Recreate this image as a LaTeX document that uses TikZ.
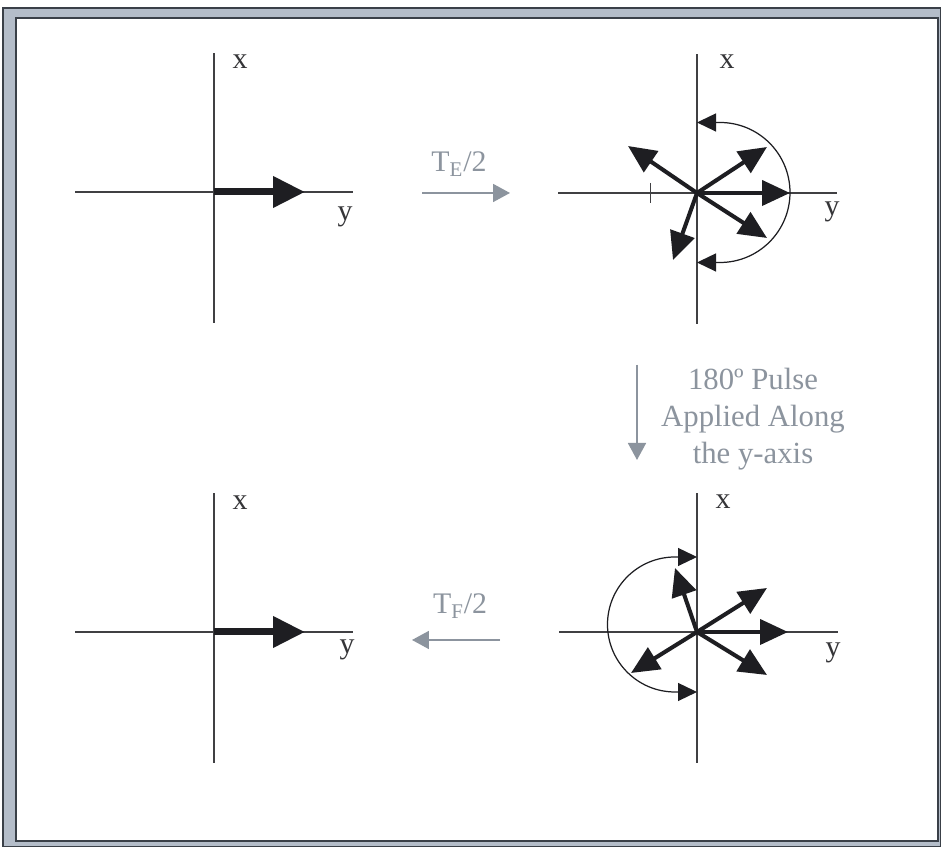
\documentclass[tikz,border=0pt]{standalone}
\usepackage{xcolor}
\usepackage{tikz}
\usepackage{fontspec}
\setmainfont{Liberation Serif}
\usetikzlibrary{arrows.meta, positioning}
\definecolor{FrameGray}{HTML}{B4BDC9}
\definecolor{FrameLine}{HTML}{3A4048}
\definecolor{ScanGray}{HTML}{8C949E}
\definecolor{InkBlack}{HTML}{1E1E22}

\begin{document}
\begin{tikzpicture}[x=0.02cm, y=0.02cm,
  axis/.style={draw=InkBlack!85, line width=0.8pt},
  vec/.style={-{Triangle[length=0.56cm, width=0.5cm]}, line width=2.3pt, draw=InkBlack, fill=InkBlack},
  bigvec/.style={-{Triangle[length=0.64cm, width=0.6cm]}, line width=4pt, draw=InkBlack, fill=InkBlack},
  turn/.style={{Triangle[length=0.38cm, width=0.36cm]}-{Triangle[length=0.38cm, width=0.36cm]},
               line width=0.7pt, draw=InkBlack},
  delay/.style={-{Triangle[length=0.34cm, width=0.36cm]}, line width=1pt, draw=ScanGray, fill=ScanGray},
  lbl/.style={font=\fontsize{17}{20}\selectfont, text=InkBlack!90, inner sep=0pt},
  note/.style={font=\fontsize{17}{20}\selectfont, text=ScanGray, inner sep=0pt, align=center}
]
  \useasboundingbox (0,0) rectangle (941,847);
  % scanned frame
  \fill[white] (0,0) rectangle (941,847);
  \filldraw[fill=FrameGray, draw=FrameLine, line width=0.6pt] (3,0) rectangle (941,839);
  \filldraw[fill=white, draw=FrameLine, line width=0.9pt] (16,6) rectangle (938,829);

  % origins
  \coordinate (oTL) at (214,655);
  \coordinate (oTR) at (697,654);
  \coordinate (oBL) at (214,215);
  \coordinate (oBR) at (697,215);

  % axes
  \foreach \o in {oTL,oBL,oTR,oBR} {
    \draw[axis] ([yshift=2.78cm]\o) -- ([yshift=-2.62cm]\o);
  }
  \draw[axis] ([xshift=-2.78cm]oTL) -- ([xshift=2.78cm]oTL);
  \draw[axis] ([xshift=-2.78cm]oBL) -- ([xshift=2.78cm]oBL);
  \draw[axis] ([xshift=-2.78cm]oTR) -- ([xshift=2.8cm]oTR);
  \draw[axis] ([xshift=-2.76cm]oBR) -- ([xshift=2.82cm]oBR);
  \draw[axis, line width=0.5pt] (650,664) -- (650,644);

  \node[lbl] (xTL) at (240,785) {x};
  \node[lbl] (yTL) at (345,630) {y};
  \node[lbl] (xTR) at (727,785) {x};
  \node[lbl] (yTR) at (832,635) {y};
  \node[lbl] (xBL) at (240,344) {x};
  \node[lbl] (yBL) at (347,197) {y};
  \node[lbl] (xBR) at (723,345) {x};
  \node[lbl] (yBR) at (833,194) {y};

  % magnetisation before and after
  \coordinate (mTL) at (305,655);
  \coordinate (mBL) at (305,215);
  \draw[bigvec] (oTL) -- (mTL);
  \draw[bigvec] (oBL) -- (mBL);

  % dephasing spins
  \coordinate (sTR1) at (790,654);
  \coordinate (sTR2) at (767,700);
  \coordinate (sTR3) at (628,701);
  \coordinate (sTR4) at (767,609);
  \coordinate (sTR5) at (673,587);
  \foreach \s in {sTR1,sTR2,sTR3,sTR4,sTR5}
    \draw[vec] (oTR) -- (\s);
  \coordinate (aTR1) at (697,724.5);
  \coordinate (aTR2) at (697,584.5);
  \draw[turn] (aTR1) -- (720,724.5) arc[start angle=90, end angle=-90, radius=70] -- (aTR2);

  % refocusing spins
  \coordinate (sBR1) at (788,215);
  \coordinate (sBR2) at (767,259);
  \coordinate (sBR3) at (675,279);
  \coordinate (sBR4) at (767,172);
  \coordinate (sBR5) at (631,174);
  \foreach \s in {sBR1,sBR2,sBR3,sBR4,sBR5}
    \draw[vec] (oBR) -- (\s);
  \coordinate (aBR1) at (697,290);
  \coordinate (aBR2) at (697,155);
  \draw[turn] (aBR1) -- (675,290) arc[start angle=90, end angle=270, radius=67.5] -- (aBR2);

  % timing arrows
  \coordinate (tA) at (422,654);
  \coordinate (tB) at (510,654);
  \coordinate (tC) at (500,207);
  \coordinate (tD) at (412,207);
  \draw[delay] (tA) -- (tB);
  \draw[delay] (tC) -- (tD);
  \node[note] (tTop) at (459,683) {T\textsubscript{E}/2};
  \node[note] (tBot) at (460,241) {T\textsubscript{F}/2};

  % pulse
  \coordinate (pA) at (637,482);
  \coordinate (pB) at (637,387);
  \draw[delay] (pA) -- (pB);
  \node[note, font=\fontsize{17.5}{21}\selectfont] (pulse) at (753,428)
    {180º Pulse\\Applied Along\\the y-axis};
\end{tikzpicture}
\end{document}
